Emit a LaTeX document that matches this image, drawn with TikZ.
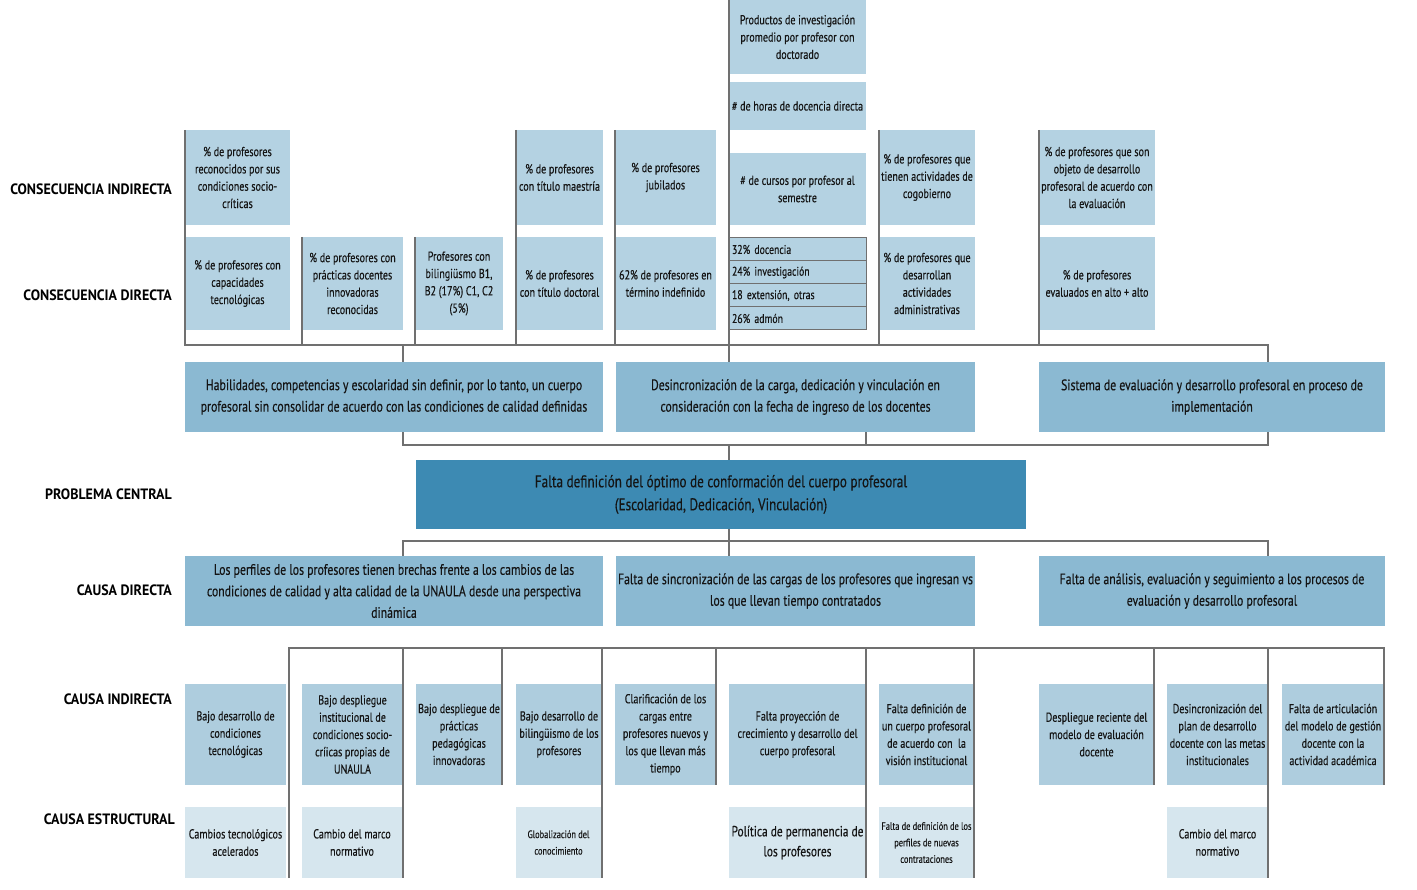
\documentclass[tikz,border=0pt]{standalone}
\usepackage{fontspec}
\setmainfont{PT Sans}[FakeStretch=0.775, FakeBold=0.3]
\newfontfamily\lblfont{PT Sans}[FakeStretch=0.93]
\definecolor{cA}{RGB}{180,210,226}
\definecolor{cC}{RGB}{174,205,222}
\definecolor{cM}{RGB}{139,185,210}
\definecolor{cP}{RGB}{61,138,179}
\definecolor{cS}{RGB}{214,230,238}
\definecolor{ln}{RGB}{112,112,112}
\definecolor{txt}{RGB}{20,20,20}
\newcommand\bx[7]{%
  \pgfmathsetmacro\myW{#4-(#2)}%
  \pgfmathsetmacro\myH{#5-(#3)}%
  \pgfmathsetmacro\myX{(#2+#4)/2}%
  \pgfmathsetmacro\myY{(#3+#5)/2}%
  \node[#6, minimum width=\myW pt, minimum height=\myH pt] (#1) at (\myX,\myY) {#7};}
\tikzset{
  bx/.style={rectangle, inner sep=0pt, align=center, text=txt},
  sA/.style={bx, fill=cA, font=\fontsize{13}{17.3}\selectfont},
  sC/.style={bx, fill=cC, font=\fontsize{13}{17.3}\selectfont},
  sM/.style={bx, fill=cM, font=\fontsize{15.2}{21.5}\selectfont},
  sP/.style={bx, fill=cP, font=\fontsize{17}{23}\selectfont},
  sS/.style={bx, fill=cS, font=\fontsize{13}{17.3}\selectfont},
  tb/.style={bx, fill=cA, draw=ln, line width=1pt, align=left, text width=131pt, font=\fontsize{12.6}{15}\selectfont},
  lbl/.style={anchor=east, inner sep=0pt, text=black, font=\lblfont\bfseries\fontsize{15}{18}\selectfont},
  cn/.style={draw=ln, line width=1.6pt},
}
\begin{document}
\begin{tikzpicture}[x=1pt, y=-1pt]
\useasboundingbox (0,0) rectangle (1417,890);
% left labels
\node[lbl] (L1) at (172,189) {CONSECUENCIA INDIRECTA};
\node[lbl] (L2) at (172,295) {CONSECUENCIA DIRECTA};
\node[lbl] (L3) at (172,494) {PROBLEMA CENTRAL};
\node[lbl] (L4) at (172,590) {CAUSA DIRECTA};
\node[lbl] (L5) at (172,699) {CAUSA INDIRECTA};
\node[lbl] (L6) at (175,819) {CAUSA ESTRUCTURAL};
% top column
\bx{P1}{729}{0}{866}{74}{sA}{Productos de investigación\\promedio por profesor con\\doctorado}
\bx{P2}{729}{82}{866}{130}{sA}{\# de horas de docencia directa}
\bx{P3}{729}{153}{866}{225}{sA}{\# de cursos por profesor al\\semestre}
% consecuencia indirecta
\bx{A1}{185}{130}{290}{225}{sA}{\% de profesores\\reconocidos por sus\\condiciones socio-\\críticas}
\bx{A2}{516}{130}{603}{225}{sA}{\% de profesores\\con título maestría}
\bx{A3}{615}{130}{716}{225}{sA}{\% de profesores\\jubilados}
\bx{A4}{879}{130}{975}{225}{sA}{\% de profesores que\\tienen actividades de\\cogobierno}
\bx{A5}{1039}{130}{1155}{225}{sA}{\% de profesores que son\\objeto de desarrollo\\profesoral de acuerdo con\\la evaluación}
% consecuencia directa
\bx{B1}{185}{237}{290}{330}{sA}{\% de profesores con\\capacidades\\tecnológicas}
\bx{B2}{302}{237}{403}{330}{sA}{\% de profesores con\\prácticas docentes\\innovadoras\\reconocidas}
\bx{B3}{415}{237}{503}{330}{sA}{Profesores con\\bilingiüsmo B1,\\B2 (17\%) C1, C2\\(5\%)}
\bx{B4}{516}{237}{603}{330}{sA}{\% de profesores\\con título doctoral}
\bx{B5}{615}{237}{716}{330}{sA}{62\% de profesores en\\término indefinido}
\bx{T1}{729}{238}{866}{261}{tb}{32\% docencia}
\bx{T2}{729}{261}{866}{284}{tb}{24\% investigación}
\bx{T3}{729}{284}{866}{307}{tb}{18 extensión, otras}
\bx{T4}{729}{307}{866}{330}{tb}{26\% admón}
\bx{B6}{879}{237}{975}{330}{sA}{\% de profesores que\\desarrollan\\actividades\\administrativas}
\bx{B7}{1039}{237}{1155}{330}{sA}{\% de profesores\\evaluados en alto + alto}
% middle row
\bx{M1}{185}{362}{603}{432}{sM}{Habilidades, competencias y escolaridad sin definir, por lo tanto, un cuerpo\\profesoral sin consolidar de acuerdo con las condiciones de calidad definidas}
\bx{M2}{616}{362}{975}{432}{sM}{Desincronización de la carga, dedicación y vinculación en\\consideración con la fecha de ingreso de los docentes}
\bx{M3}{1039}{362}{1385}{432}{sM}{Sistema de evaluación y desarrollo profesoral en proceso de\\implementación}
% central problem
\bx{PC}{416}{460}{1026}{529}{sP}{Falta definición del óptimo de conformación del cuerpo profesoral\\(Escolaridad, Dedicación, Vinculación)}
% causa directa
\bx{D1}{185}{556}{603}{626}{sM}{Los perfiles de los profesores tienen brechas frente a los cambios de las\\condiciones de calidad y alta calidad de la UNAULA desde una perspectiva\\dinámica}
\bx{D2}{616}{556}{975}{626}{sM}{Falta de sincronización de las cargas de los profesores que ingresan vs\\los que llevan tiempo contratados}
\bx{D3}{1039}{556}{1385}{626}{sM}{Falta de análisis, evaluación y seguimiento a los procesos de\\evaluación y desarrollo profesoral}
% causa indirecta
\bx{C1}{185}{684}{286}{785}{sC}{Bajo desarrollo de\\condiciones\\tecnológicas}
\bx{C2}{302}{684}{403}{785}{sC}{Bajo despliegue\\institucional de\\condiciones socio-\\críicas propias de\\UNAULA}
\bx{C3}{416}{684}{502}{785}{sC}{Bajo despliegue de\\prácticas\\pedagógicas\\innovadoras}
\bx{C4}{516}{684}{602}{785}{sC}{Bajo desarrollo de\\bilingüismo de los\\profesores}
\bx{C5}{615}{684}{716}{785}{sC}{Clarificación de los\\cargas entre\\profesores nuevos y\\los que llevan más\\tiempo}
\bx{C6}{729}{684}{866}{785}{sC}{Falta proyección de\\crecimiento y desarrollo del\\cuerpo profesoral}
\bx{C7}{879}{684}{974}{785}{sC}{Falta definición de\\un cuerpo profesoral\\de acuerdo con\ \ la\\visión institucional}
\bx{C8}{1039}{684}{1154}{785}{sC}{Despliegue reciente del\\modelo de evaluación\\docente}
\bx{C9}{1167}{684}{1268}{785}{sC}{Desincronización del\\plan de desarrollo\\docente con las metas\\institucionales}
\bx{C10}{1282}{684}{1384}{785}{sC}{Falta de articulación\\del modelo de gestión\\docente con la\\actividad académica}
% causa estructural
\bx{S1}{185}{807}{286}{878}{sS}{Cambios tecnológicos\\acelerados}
\bx{S2}{302}{807}{402}{878}{sS}{Cambio del marco\\normativo}
\bx{S3}{516}{807}{601}{878}{sS, font=\fontsize{10.8}{16.5}\selectfont}{Globalización del\\conocimiento}
\bx{S4}{729}{807}{866}{878}{sS, font=\fontsize{14.7}{20}\selectfont}{Política de permanencia de\\los profesores}
\bx{S5}{879}{807}{974}{878}{sS, font=\fontsize{10.8}{16.5}\selectfont}{Falta de definición de los\\perfiles de nuevas\\contrataciones}
\bx{S6}{1167}{807}{1268}{878}{sS}{Cambio del marco\\normativo}
% ---- connectors
\coordinate (u2) at (1268,345);
\coordinate (v1) at (403,445);
\coordinate (v2) at (1268,445);
\coordinate (w1) at (403,541);
\coordinate (w2) at (1268,541);
\coordinate (z1) at (289,648);
\coordinate (z2) at (1384,648);
% top bus
\draw[cn] (A1.north west) -- (A1.north west |- u2) -- (u2) -- (M3.north -| u2);
\draw[cn] (B2.north west) -- (B2.north west |- u2);
\draw[cn] (B3.north west) -- (B3.north west |- u2);
\draw[cn] (A2.north west) -- (A2.north west |- u2);
\draw[cn] (A3.north west) -- (A3.north west |- u2);
\draw[cn] (P1.north west) -- (M2.north -| P1.north west);
\draw[cn] (A4.north west) -- (A4.north west |- u2);
\draw[cn] (A5.north west) -- (A5.north west |- u2);
\draw[cn] (B2.north east |- u2) -- (M1.north -| B2.north east);
% to central problem
\draw[cn] (M1.south -| v1) -- (v1) -- (v2) -- (M3.south -| v2);
\draw[cn] (M2.south -| P1.east) -- (P1.east |- v1);
\draw[cn] (P1.west |- v1) -- (PC.north -| P1.west);
% from central problem
\draw[cn] (PC.south -| P1.west) -- (D2.north -| P1.west);
\draw[cn] (D1.north -| w1) -- (w1) -- (w2) -- (D3.north -| w2);
% bottom bus
\draw[cn] (z1 |- S1.south) -- (z1) -- (z2) -- (z2 |- C10.south);
\draw[cn] (z1 -| C2.east) -- (S2.south -| C2.east);
\draw[cn] (z1 -| C3.east) -- (C3.south east);
\draw[cn] (z1 -| C4.east) -- (S3.south -| C4.east);
\draw[cn] (z1 -| C5.east) -- (C5.south east);
\draw[cn] (z1 -| C6.east) -- (S4.south -| C6.east);
\draw[cn] (z1 -| C7.east) -- (S5.south -| C7.east);
\draw[cn] (z1 -| C8.east) -- (C8.south east);
\draw[cn] (z1 -| C9.east) -- (S6.south -| C9.east);
\end{tikzpicture}
\end{document}
